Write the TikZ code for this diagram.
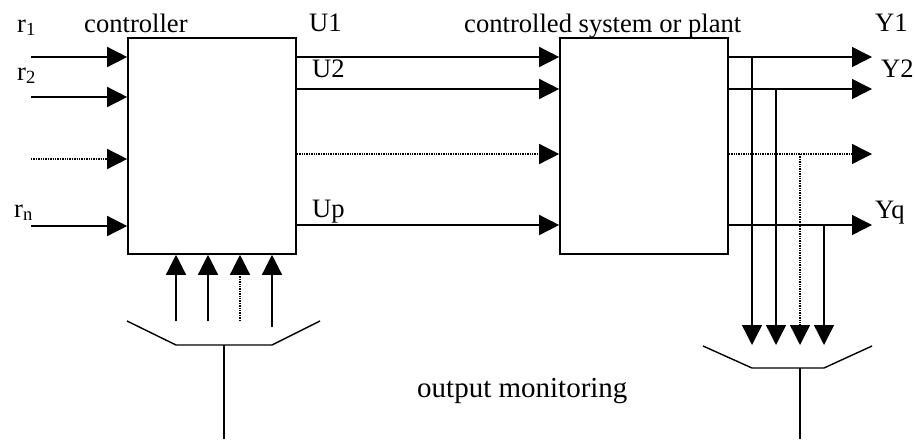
\documentclass[tikz,border=0pt]{standalone}
\usepackage{fontspec}
\setmainfont{Liberation Serif}
\usetikzlibrary{arrows.meta}

\begin{document}
\begin{tikzpicture}[
        x=1pt, y=-1pt,
        >={Triangle[length=20pt,width=20pt]},
        block/.style={
            rectangle,
            draw=black,
            line width=1.6pt,
            inner sep=0pt,
            minimum width=168pt,
            minimum height=216pt
        },
        txt/.style={anchor=base west, inner sep=0pt, font=\fontsize{26.6}{30}\selectfont},
        arrow/.style={->, line width=1.4pt},
        dotarrow/.style={->, line width=1.4pt, densely dotted},
        wire/.style={line width=1.4pt}
    ]
    \useasboundingbox (0,0) rectangle (915,439);

    \node[block] (ctrl)  at (212, 146) {};
    \node[block] (plant) at (644, 146) {};

    % labels
    \node[txt] (lr1) at (17, 32)  {r\textsubscript{1}};
    \node[txt] (lr2) at (17, 80)  {r\textsubscript{2}};
    \node[txt] (lrn) at (14, 217) {r\textsubscript{n}};
    \node[txt] (lctrl)  at (84, 32)  {controller};
    \node[txt] (lplant) at (464, 32) {controlled system or plant};
    \node[txt] (lu1) at (309, 31)  {U1};
    \node[txt] (lu2) at (312, 77)  {U2};
    \node[txt] (lup) at (312, 217) {Up};
    \node[txt] (ly1) at (875, 31)  {Y1};
    \node[txt] (ly2) at (881, 77)  {Y2};
    \node[txt] (lyq) at (875, 218) {Yq};
    \node[txt, font=\fontsize{29}{32}\selectfont] (lmon) at (417, 397) {output monitoring};

    % reference inputs
    \coordinate (r1) at (31, 57);
    \coordinate (r2) at (31, 97);
    \coordinate (rk) at (31, 159);
    \coordinate (rn) at (31, 226);
    \draw[arrow]    (r1) -- (r1 -| ctrl.west);
    \draw[arrow]    (r2) -- (r2 -| ctrl.west);
    \draw[dotarrow] (rk) -- (rk -| ctrl.west);
    \draw[arrow]    (rn) -- (rn -| ctrl.west);

    % control signals
    \draw[arrow]    (ctrl.east |- 0,57)  -- (plant.west |- 0,57);
    \draw[arrow]    (ctrl.east |- 0,89)  -- (plant.west |- 0,89);
    \draw[dotarrow] (ctrl.east |- 0,154) -- (plant.west |- 0,154);
    \draw[arrow]    (ctrl.east |- 0,225) -- (plant.west |- 0,225);

    % outputs
    \coordinate (y1) at (872, 57);
    \coordinate (y2) at (872, 89);
    \coordinate (yk) at (872, 154);
    \coordinate (yq) at (872, 225);
    \draw[arrow]    (plant.east |- y1) -- (y1);
    \draw[arrow]    (plant.east |- y2) -- (y2);
    \draw[dotarrow] (plant.east |- yk) -- (yk);
    \draw[arrow]    (plant.east |- yq) -- (yq);

    % taps to output monitoring
    \coordinate (m1) at (752, 345);
    \coordinate (m2) at (776, 345);
    \coordinate (mk) at (800, 345);
    \coordinate (mq) at (824, 345);
    \draw[arrow]    (m1 |- y1) -- (m1);
    \draw[arrow]    (m2 |- y2) -- (m2);
    \draw[dotarrow] (mk |- yk) -- (mk);
    \draw[arrow]    (mq |- yq) -- (mq);

    % monitoring feedback to controller
    \coordinate (f1) at (176, 321);
    \coordinate (f2) at (208, 321);
    \coordinate (fk) at (240, 321);
    \coordinate (fq) at (272, 327);
    \draw[arrow]    (f1) -- (f1 |- ctrl.south);
    \draw[arrow]    (f2) -- (f2 |- ctrl.south);
    \draw[dotarrow] (fk) -- (fk |- ctrl.south);
    \draw[arrow]    (fq) -- (fq |- ctrl.south);

    % funnels
    \draw[wire] (127, 321) -- (176, 345) -- (272, 345) -- (320, 321);
    \draw[wire] (224, 345) -- (224, 439);
    \draw[wire] (703, 346) -- (752, 368) -- (824, 368) -- (872, 346);
    \draw[wire] (800, 368) -- (800, 439);

\end{tikzpicture}
\end{document}
